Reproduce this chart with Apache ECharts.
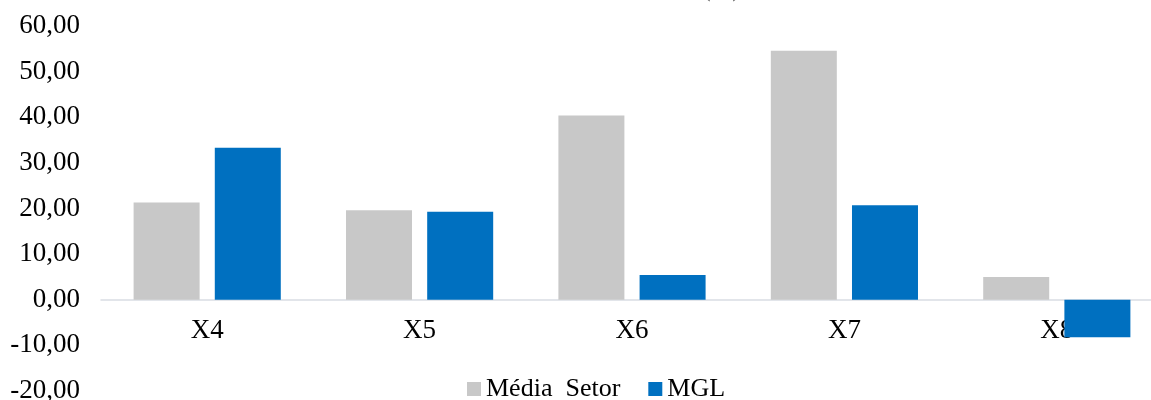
<!DOCTYPE html>
<html><head><meta charset="utf-8">
<script src="https://cdn.jsdelivr.net/npm/echarts@6/dist/echarts.min.js"></script>
<style>html,body{margin:0;padding:0;background:#fff;overflow:hidden;width:1151px;height:400px}#c{width:1163px;height:400px}</style>
</head><body><div id="c"></div>
<script>
const categories = ['X4', 'X5', 'X6', 'X7', 'X8'];
const mediaSetor = [21.3, 19.6, 40.4, 54.6, 5.0];
const mgl = [33.3, 19.3, 5.4, 20.7, -8.2];
const seriesNames = ['Média  Setor', 'MGL'];
const yTicks = { min: -20, max: 60, interval: 10 };

const chart = echarts.init(document.getElementById('c'));
const font = '"Liberation Serif", "Times New Roman", serif';
const gridTop = 26, gridBottom = 9, plotH = 400 - gridTop - gridBottom;
const zeroOffset = plotH * (0 - yTicks.min) / (yTicks.max - yTicks.min);
chart.setOption({
  animation: false,
  title: {
    text: '(%)', left: 702, top: -24, padding: 0,
    textStyle: { fontFamily: font, fontSize: 26, fontWeight: 'normal', color: '#595959' }
  },
  grid: { left: 101, right: 0, top: gridTop, bottom: gridBottom, containLabel: false, outerBoundsMode: 'none' },
  legend: {
    data: seriesNames, top: 376, left: 467, padding: 0, itemWidth: 14, itemHeight: 14, itemGap: 28,
    icon: 'rect',
    textStyle: { fontFamily: font, fontSize: 26, color: '#000' }
  },
  xAxis: {
    type: 'category', data: categories, position: 'bottom', offset: -zeroOffset,
    axisLine: { onZero: false, lineStyle: { color: '#d9dde3', width: 1.5 } },
    axisTick: { show: false },
    axisLabel: { fontFamily: font, fontSize: 27, color: '#000', margin: 18 }
  },
  yAxis: {
    type: 'value', min: yTicks.min, max: yTicks.max, interval: yTicks.interval,
    axisLine: { show: false }, axisTick: { show: false }, splitLine: { show: false },
    axisLabel: {
      fontFamily: font, fontSize: 27, color: '#000', margin: 21,
      formatter: v => v.toFixed(2).replace('.', ',')
    }
  },
  series: [
    { name: seriesNames[0], type: 'bar', data: mediaSetor, barWidth: 66, barGap: '23%',
      itemStyle: { color: '#c8c8c8' } },
    { name: seriesNames[1], type: 'bar', data: mgl, barWidth: 66,
      itemStyle: { color: '#0070c0' } }
  ]
});
</script></body></html>
